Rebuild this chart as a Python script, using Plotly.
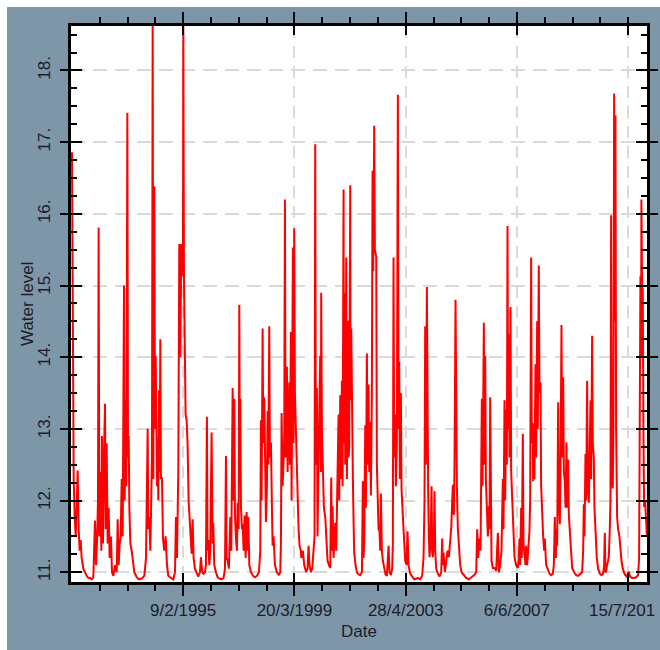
import plotly.graph_objects as go
import pandas as pd

date_decimal = [
    1991.002, 1991.027, 1991.064, 1991.101, 1991.138, 1991.175, 1991.211, 1991.248, 1991.285, 1991.322,
    1991.359, 1991.421, 1991.482, 1991.544, 1991.605, 1991.667, 1991.728, 1991.790, 1991.851, 1991.888,
    1991.925, 1991.962, 1991.986, 1992.011, 1992.048, 1992.085, 1992.109, 1992.146, 1992.183, 1992.220,
    1992.245, 1992.282, 1992.318, 1992.355, 1992.392, 1992.441, 1992.478, 1992.528, 1992.589, 1992.651,
    1992.687, 1992.724, 1992.761, 1992.798, 1992.835, 1992.872, 1992.921, 1992.946, 1992.983, 1993.007,
    1993.044, 1993.069, 1993.093, 1993.118, 1993.155, 1993.204, 1993.253, 1993.302, 1993.389, 1993.475,
    1993.573, 1993.671, 1993.733, 1993.770, 1993.794, 1993.819, 1993.856, 1993.893, 1993.930, 1993.954,
    1993.979, 1994.004, 1994.040, 1994.065, 1994.090, 1994.114, 1994.139, 1994.163, 1994.188, 1994.213,
    1994.237, 1994.262, 1994.286, 1994.323, 1994.360, 1994.409, 1994.459, 1994.508, 1994.557, 1994.655,
    1994.742, 1994.803, 1994.840, 1994.877, 1994.901, 1994.926, 1994.963, 1995.000, 1995.037, 1995.074,
    1995.098, 1995.111, 1995.135, 1995.172,
    1995.196, 1995.233, 1995.270, 1995.307, 1995.344, 1995.381, 1995.418, 1995.455, 1995.491, 1995.541,
    1995.602, 1995.664, 1995.725, 1995.762, 1995.811, 1995.860, 1995.910, 1995.947, 1995.983, 1996.008,
    1996.033, 1996.070, 1996.106, 1996.156, 1996.193, 1996.217, 1996.254, 1996.316, 1996.377, 1996.451,
    1996.525, 1996.598, 1996.648, 1996.685, 1996.709, 1996.746, 1996.795, 1996.844, 1996.881, 1996.931,
    1996.955, 1996.992, 1997.017, 1997.053, 1997.090, 1997.115, 1997.152, 1997.177, 1997.201, 1997.213,
    1997.238, 1997.275, 1997.300, 1997.336, 1997.373, 1997.410, 1997.447, 1997.484, 1997.509, 1997.546,
    1997.607, 1997.681, 1997.755, 1997.828, 1997.902, 1997.951, 1997.976, 1998.001, 1998.038, 1998.062,
    1998.099, 1998.123, 1998.161, 1998.197, 1998.222, 1998.247, 1998.284, 1998.308, 1998.345, 1998.382,
    1998.407, 1998.443, 1998.493, 1998.566, 1998.640, 1998.689, 1998.714, 1998.739, 1998.776, 1998.812,
    1998.837, 1998.862, 1998.886, 1998.911, 1998.935, 1998.960, 1998.985, 1999.022, 1999.046, 1999.083,
    1999.108, 1999.132, 1999.157, 1999.181, 1999.206, 1999.231, 1999.268, 1999.305, 1999.329, 1999.366,
    1999.403, 1999.452,
    1999.464, 1999.525, 1999.575, 1999.648, 1999.698, 1999.735, 1999.771, 1999.821, 1999.870, 1999.919,
    1999.956, 1999.981, 2000.005, 2000.042, 2000.067, 2000.104, 2000.140, 2000.165, 2000.190, 2000.202,
    2000.227, 2000.263, 2000.300, 2000.350, 2000.386, 2000.436, 2000.485, 2000.534, 2000.571, 2000.595,
    2000.620, 2000.657, 2000.694, 2000.718, 2000.755, 2000.780, 2000.804, 2000.841, 2000.866, 2000.903,
    2000.927, 2000.964, 2000.989, 2001.026, 2001.038, 2001.063, 2001.087, 2001.124, 2001.149, 2001.186,
    2001.211, 2001.235, 2001.272, 2001.284, 2001.309, 2001.346, 2001.371, 2001.395, 2001.420, 2001.469,
    2001.518, 2001.580, 2001.641, 2001.703, 2001.739, 2001.764, 2001.789, 2001.826, 2001.850, 2001.887,
    2001.912, 2001.948, 2001.973, 2002.010, 2002.035, 2002.071, 2002.096, 2002.121, 2002.158, 2002.182,
    2002.207, 2002.232, 2002.256, 2002.281, 2002.318, 2002.354, 2002.379, 2002.404, 2002.440, 2002.477,
    2002.527, 2002.576, 2002.625, 2002.687, 2002.723, 2002.773, 2002.822, 2002.846, 2002.871, 2002.896,
    2002.932, 2002.957, 2002.994, 2003.031, 2003.056, 2003.080, 2003.105, 2003.142, 2003.166, 2003.203,
    2003.240, 2003.302, 2003.351, 2003.388, 2003.424, 2003.486, 2003.560, 2003.634, 2003.708,
    2003.770, 2003.856, 2003.929, 2003.979, 2004.016, 2004.040, 2004.065, 2004.102, 2004.126, 2004.151,
    2004.175, 2004.200, 2004.237, 2004.274, 2004.298, 2004.323, 2004.360, 2004.385, 2004.409, 2004.446,
    2004.508, 2004.569, 2004.631, 2004.667, 2004.692, 2004.717, 2004.766, 2004.815, 2004.864, 2004.913,
    2004.963, 2005.000, 2005.036, 2005.061, 2005.098, 2005.122, 2005.159, 2005.184, 2005.209, 2005.245,
    2005.282, 2005.332, 2005.381, 2005.455, 2005.553, 2005.651, 2005.750, 2005.848, 2005.922, 2005.959,
    2005.996, 2006.045, 2006.082, 2006.107, 2006.131, 2006.156, 2006.180, 2006.205, 2006.230, 2006.254,
    2006.279, 2006.303, 2006.328, 2006.353, 2006.389, 2006.414, 2006.439, 2006.463, 2006.488, 2006.537,
    2006.599, 2006.660, 2006.722, 2006.758, 2006.808, 2006.857, 2006.906, 2006.931, 2006.968, 2006.992,
    2007.029, 2007.054, 2007.079, 2007.103, 2007.128, 2007.152, 2007.189, 2007.214, 2007.251, 2007.287,
    2007.337, 2007.398, 2007.460, 2007.496, 2007.521, 2007.546, 2007.583, 2007.607, 2007.644, 2007.669,
    2007.706, 2007.742, 2007.767, 2007.804, 2007.841, 2007.890, 2007.915, 2007.952, 2007.976, 2008.013,
    2008.025, 2008.050, 2008.074, 2008.111, 2008.136, 2008.173, 2008.197, 2008.234, 2008.259, 2008.296,
    2008.320, 2008.357, 2008.394, 2008.431, 2008.455, 2008.505, 2008.566, 2008.628, 2008.689, 2008.751,
    2008.788, 2008.824, 2008.861, 2008.886, 2008.911, 2008.947, 2008.972, 2009.009, 2009.034, 2009.070,
    2009.095, 2009.132, 2009.157, 2009.193, 2009.218, 2009.255, 2009.280, 2009.316, 2009.341, 2009.378,
    2009.415, 2009.464, 2009.538, 2009.612, 2009.685, 2009.759, 2009.833, 2009.870, 2009.895, 2009.919,
    2009.956, 2009.981, 2010.018, 2010.042, 2010.079, 2010.104, 2010.141, 2010.165, 2010.202, 2010.227,
    2010.264, 2010.288, 2010.325, 2010.374, 2010.423, 2010.485, 2010.546, 2010.608, 2010.645, 2010.669,
    2010.694, 2010.719, 2010.755, 2010.792, 2010.817, 2010.854, 2010.879, 2010.903, 2010.928, 2010.965,
    2010.989, 2011.014, 2011.038, 2011.063, 2011.088, 2011.125, 2011.161, 2011.211, 2011.248, 2011.285,
    2011.334, 2011.407, 2011.481, 2011.555, 2011.604, 2011.678, 2011.752, 2011.826, 2011.900, 2011.937,
    2011.949, 2011.974, 2011.986, 2012.010, 2012.022, 2012.047, 2012.072, 2012.096, 2012.121, 2012.158,
    2012.195, 2012.225,
]

water_level = [
    16.86, 14.2, 12.3, 11.77, 11.5, 11.9, 12.42, 11.6, 11.3, 11.45,
    11.2, 11.05, 10.99, 10.95, 10.92, 10.92, 10.9, 10.93, 11.72, 11.1,
    11.4, 12.0, 15.81, 11.5, 12.4, 11.3, 12.9, 11.4, 12.6, 13.35,
    11.6, 12.8, 11.4, 11.9, 11.2, 11.5, 11.0, 10.95, 11.1, 11.0,
    11.74, 11.1, 11.4, 11.5, 12.3, 11.5, 15.0, 12.0, 13.4, 12.2,
    17.41, 12.6, 12.9, 11.9, 11.4, 11.3, 11.1, 11.0, 10.93, 10.9,
    10.91, 10.95, 11.2, 12.07, 13.0, 11.6, 11.77, 11.3, 11.9, 12.6,
    18.7, 12.3, 16.38, 13.0, 14.02, 12.3, 12.2, 12.87, 12.0, 13.54,
    12.4, 14.25, 12.3, 12.32, 11.47, 11.3, 11.5, 11.1, 10.95, 10.92,
    10.9, 11.0, 11.77, 11.2, 11.66, 12.4, 15.58, 14.0, 15.58, 15.4,
    15.13, 18.7, 15.13, 13.2,
    13.2, 13.12, 12.77, 12.0, 11.7, 11.4, 11.26, 11.74, 11.2, 11.05,
    10.98, 10.94, 11.0, 11.21, 11.0, 10.98, 11.0, 11.1, 13.17, 11.3,
    11.45, 11.1, 11.3, 12.95, 11.4, 11.69, 11.1, 11.0, 10.93, 10.91,
    10.9, 10.92, 11.05, 12.62, 11.2, 11.16, 11.05, 11.77, 11.3, 13.57,
    12.0, 13.42, 11.8, 11.47, 11.3, 11.97, 11.6, 14.73, 12.2, 13.42,
    11.9, 11.6, 11.67, 11.3, 11.79, 11.2, 11.84, 11.3, 11.77, 11.1,
    11.0, 10.95, 10.93, 10.95, 11.0, 11.3, 13.12, 12.0, 14.4, 12.8,
    13.44, 12.4, 11.7, 12.2, 13.25, 12.5, 14.43, 12.6, 12.81, 11.9,
    11.37, 11.5, 11.1, 11.0, 10.96, 11.0, 11.4, 13.22, 12.2, 12.55,
    12.9, 16.2, 12.6, 13.03, 13.87, 12.4, 13.0, 13.65, 12.5, 14.35,
    12.0, 13.5, 15.53, 12.8, 15.8, 13.5, 12.93, 12.3, 11.95, 11.6,
    11.37, 11.3,
    11.2, 11.3, 11.1, 11.0, 11.05, 11.37, 11.1, 11.0, 11.05, 11.27,
    11.5, 16.97, 12.5, 13.57, 11.5, 12.6, 13.2, 14.02, 12.4, 14.9,
    13.0, 12.17, 11.9, 11.77, 11.4, 11.16, 11.1, 11.06, 12.32, 11.3,
    11.92, 11.2, 11.5, 11.69, 11.3, 11.84, 12.4, 13.2, 12.0, 13.47,
    12.3, 13.67, 12.2, 16.34, 12.8, 14.9, 12.5, 15.39, 12.3, 14.51,
    12.6, 12.75, 16.4, 13.4, 14.4, 12.6, 12.27, 11.7, 11.27, 11.1,
    11.0, 10.97, 10.96, 11.0, 12.27, 11.2, 11.4, 13.05, 11.9, 14.05,
    12.5, 13.62, 12.4, 13.1, 12.07, 13.5, 16.6, 15.2, 17.23, 15.5,
    15.4, 15.4, 12.5, 11.92, 11.6, 11.57, 11.3, 12.1, 11.3, 11.16,
    11.05, 10.97, 10.95, 11.37, 11.0, 10.96, 11.05, 11.4, 15.39, 12.6,
    13.2, 12.2, 12.8, 17.66, 13.0, 13.94, 12.3, 13.5, 12.17, 11.8,
    11.6, 11.16, 11.1, 11.57, 11.1, 10.98, 10.93, 10.9, 10.91,
    10.92, 10.9, 10.95, 11.21, 12.0, 14.43, 12.5, 14.98, 12.3, 12.09,
    11.5, 11.21, 11.4, 12.2, 11.3, 11.21, 11.5, 12.13, 11.3, 11.05,
    10.98, 10.94, 11.0, 11.47, 11.1, 11.27, 11.0, 11.16, 11.3, 11.21,
    11.5, 11.62, 12.0, 12.22, 11.8, 12.57, 14.8, 12.3, 12.17, 11.6,
    11.37, 11.1, 11.0, 10.96, 10.92, 10.9, 10.93, 10.96, 11.0, 11.6,
    11.2, 11.47, 11.3, 12.0, 13.42, 12.2, 13.2, 14.48, 12.5, 14.02,
    12.3, 12.0, 11.95, 11.5, 11.92, 11.6, 13.44, 11.5, 11.16, 11.06,
    11.06, 11.02, 11.55, 11.0, 11.1, 11.3, 12.3, 11.6, 13.4, 12.0,
    13.27, 12.5, 15.83, 13.0, 14.32, 12.6, 14.7, 12.4, 12.0, 11.6,
    11.21, 11.1, 11.06, 11.2, 11.47, 11.1, 11.9, 11.2, 12.93, 11.4,
    11.27, 11.1, 11.37, 11.1, 11.3, 11.57, 12.0, 15.39, 12.8, 13.08,
    12.27, 13.08, 12.3, 13.9, 12.6, 14.5, 13.0, 15.28, 13.5, 13.65,
    12.2, 11.67, 11.5, 11.3, 11.47, 11.1, 11.03, 10.98, 10.96, 10.98,
    11.1, 11.77, 11.2, 11.6, 11.37, 13.37, 12.0, 11.67, 12.5, 14.45,
    12.6, 13.72, 12.4, 12.27, 11.9, 12.81, 11.9, 12.57, 11.8, 11.57,
    11.3, 11.06, 11.0, 10.96, 10.95, 10.98, 11.0, 11.3, 11.95, 11.5,
    12.65, 12.0, 13.67, 12.2, 11.97, 12.5, 13.4, 12.3, 14.3, 12.8,
    12.6, 11.9, 11.52, 11.2, 11.05, 10.98, 10.96, 10.98, 11.1, 11.55,
    11.0, 11.01, 11.1, 11.2, 11.21, 11.6, 12.0, 15.98, 12.3, 12.17,
    13.0, 17.68, 14.5, 17.37, 13.0, 11.77, 11.6, 11.5, 11.3, 11.16,
    11.05, 10.97, 10.94, 11.01, 10.94, 10.92, 10.92, 10.93, 10.96, 11.2,
    12.17, 13.5, 15.13, 14.0, 16.2, 15.0, 14.95, 13.0, 11.91, 12.0,
    11.66, 11.5,
]

y_tick_values = [11, 12, 13, 14, 15, 16, 17, 18]
y_tick_labels = ["11.", "12.", "13.", "14.", "15.", "16.", "17.", "18."]
x_tick_dates = ["1995-02-09", "1999-03-20", "2003-04-28", "2007-06-06", "2011-07-15"]
x_tick_labels = ["9/2/1995", "20/3/1999", "28/4/2003", "6/6/2007", "15/7/201"]
x_range_decimal = [1990.965, 2012.228]
y_range = [10.864, 18.62]


def dec_to_date(t):
    y = int(t)
    start = pd.Timestamp(year=y, month=1, day=1)
    end = pd.Timestamp(year=y + 1, month=1, day=1)
    return start + (t - y) * (end - start)


dates = [dec_to_date(t) for t in date_decimal]
x_range = [dec_to_date(t) for t in x_range_decimal]
minor_x = [pd.Timestamp("1991-01-01") + pd.Timedelta(days=375 * k) for k in range(1, 57)]
minor_x = [d for d in minor_x if d <= x_range[1]]

BG = "#7e97a8"
TXT = "#1b1b2b"
GRID = "#dadada"
FONT = "Liberation Sans, Arial, sans-serif"
FS = 17

W, H = 660, 650
ML, MR, MT, MB = 71, 13, 26, 68
PW, PH = W - ML - MR, H - MT - MB

fig = go.Figure()
fig.add_trace(go.Scatter(
    x=dates, y=water_level, mode="lines",
    line=dict(color="#ff0000", width=2),
    showlegend=False, hoverinfo="skip",
))

# the last date label sits hard against the right edge, so it is placed as an
# annotation nudged left (as in the reference) instead of an axis tick label
axis_ticktext = x_tick_labels[:-1] + [""]

fig.update_layout(
    width=W, height=H, autosize=False,
    margin=dict(l=ML, r=MR, t=MT, b=MB, autoexpand=False),
    paper_bgcolor=BG, plot_bgcolor="white",
    font=dict(family=FONT, size=FS, color=TXT),
    showlegend=False,
    xaxis=dict(
        type="date", range=x_range, automargin=False, ticklabeloverflow="allow",
        tickmode="array", tickvals=x_tick_dates, ticktext=axis_ticktext,
        ticks="outside", ticklen=11, tickwidth=2, tickcolor="black",
        showline=True, linewidth=3, linecolor="black", mirror="ticks",
        showgrid=True, gridcolor=GRID, gridwidth=1.5, griddash="12px,8px",
        zeroline=False,
        tickfont=dict(family=FONT, size=FS, color=TXT),
        minor=dict(tickvals=minor_x, ticks="outside", ticklen=6, tickwidth=2,
                   tickcolor="black", showgrid=False),
    ),
    yaxis=dict(
        range=y_range, automargin=False, ticklabeloverflow="allow",
        tickmode="array", tickvals=y_tick_values, ticktext=y_tick_labels,
        ticks="outside", ticklen=8, tickwidth=2, tickcolor="black",
        showline=True, linewidth=3, linecolor="black", mirror="ticks",
        showgrid=True, gridcolor=GRID, gridwidth=1.5, griddash="14px,8px",
        zeroline=False, tickangle=-90, ticklabelstandoff=3,
        tickfont=dict(family=FONT, size=FS, color=TXT),
        minor=dict(tick0=11, dtick=0.25, ticks="inside", ticklen=6, tickwidth=2,
                   tickcolor="black", showgrid=False),
    ),
    xaxis2=dict(
        type="date", range=x_range, overlaying="x", anchor="y", automargin=False,
        tickmode="array", tickvals=x_tick_dates, showticklabels=False,
        ticks="inside", ticklen=9, tickwidth=2, tickcolor="black",
        showline=False, mirror="ticks", showgrid=False, zeroline=False,
    ),
    yaxis2=dict(
        range=y_range, overlaying="y", anchor="x", automargin=False,
        tickmode="array", tickvals=y_tick_values, showticklabels=False,
        ticks="inside", ticklen=11, tickwidth=2, tickcolor="black",
        showline=False, mirror="ticks", showgrid=False, zeroline=False,
    ),
    annotations=[
        dict(text=x_tick_labels[-1], xref="x", yref="paper", x=x_tick_dates[-1],
             y=-28 / PH, xshift=-6, xanchor="center", yanchor="middle", showarrow=False,
             font=dict(family=FONT, size=FS, color=TXT)),
        dict(text="Date", xref="paper", yref="paper", x=0.5, y=-50 / PH,
             xanchor="center", yanchor="middle", showarrow=False,
             font=dict(family=FONT, size=FS, color=TXT)),
        dict(text="Water level", xref="paper", yref="paper", x=-44 / PW, y=0.5,
             xanchor="center", yanchor="middle", textangle=-90, showarrow=False,
             font=dict(family=FONT, size=FS, color=TXT)),
    ],
    shapes=[
        # white page edge (left and top) seen in the reference screenshot
        dict(type="rect", xref="paper", yref="paper", x0=-ML / PW - 0.01, x1=(7 - ML) / PW,
             y0=-0.2, y1=1.2, fillcolor="white", line=dict(width=0), layer="above"),
        dict(type="rect", xref="paper", yref="paper", x0=-0.2, x1=1.2,
             y0=(H - MB - 7) / PH, y1=(H - MB) / PH + 0.01,
             fillcolor="white", line=dict(width=0), layer="above"),
    ],
)

# invisible helper so the overlay tick axes are drawn
fig.add_trace(go.Scatter(x=[dates[0]], y=[water_level[0]], xaxis="x2", yaxis="y2",
                         mode="markers", marker=dict(opacity=0), showlegend=False,
                         hoverinfo="skip"))

fig.write_html("out.html",
               config={"displayModeBar": False, "responsive": False},
               post_script="document.body.style.margin='0px';document.body.style.overflow='hidden';")
